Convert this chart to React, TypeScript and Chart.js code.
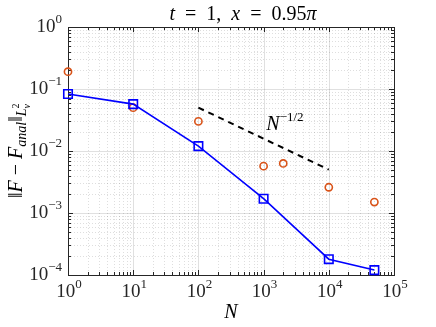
import React, { useEffect, useRef } from "react";
import { Chart, registerables } from "chart.js";

Chart.register(...registerables);

// Blue series (squares, solid line)
const N_BLUE = [1, 10, 100, 1000, 10000, 50000];
const ERR_BLUE = [0.083, 0.057, 0.012, 0.0017, 0.00018, 0.00012];

// Orange series (circles, markers only)
const N_ORANGE = [1, 10, 100, 1000, 2000, 10000, 50000];
const ERR_ORANGE = [0.19, 0.05, 0.03, 0.0057, 0.0063, 0.0026, 0.0015];

// Reference slope N^{-1/2}
const N_REF = [100, 10000];
const ERR_REF = [0.05, 0.005];

const X_DECADES = [0, 1, 2, 3, 4, 5];
const Y_DECADES = [-4, -3, -2, -1, 0];
const SLOPE_LABEL_AT = [1100, 0.022];

const SERIF = "'Liberation Serif', 'DejaVu Serif', serif";

type Piece = { t: string; it?: boolean; s?: number; dy?: number; adv?: boolean };

function font(p: Piece, base: number) {
  return `${p.it ? "italic " : ""}${p.s ?? base}px ${SERIF}`;
}

function richWidth(ctx: CanvasRenderingContext2D, pieces: Piece[], base: number) {
  let w = 0;
  for (const p of pieces) {
    ctx.font = font(p, base);
    if (p.adv !== false) w += ctx.measureText(p.t).width;
  }
  return w;
}

function drawRich(
  ctx: CanvasRenderingContext2D,
  pieces: Piece[],
  x: number,
  y: number,
  align: "left" | "center" | "right",
  base: number
) {
  const w = richWidth(ctx, pieces, base);
  let cx = align === "left" ? x : align === "center" ? x - w / 2 : x - w;
  ctx.textAlign = "left";
  ctx.textBaseline = "alphabetic";
  for (const p of pieces) {
    ctx.font = font(p, base);
    ctx.fillText(p.t, cx, y + (p.dy ?? 0));
    if (p.adv !== false) cx += ctx.measureText(p.t).width;
  }
}

function expLabel(e: number): Piece[] {
  return [{ t: "10" }, { t: e < 0 ? "\u2212" + String(-e) : String(e), s: 13, dy: -9 }];
}

const framePlugin = {
  id: "matlabFrame",
  beforeDatasetsDraw(chart: any) {
    const { ctx, chartArea: a, scales } = chart;
    const x = scales.x;
    const y = scales.y;
    ctx.save();
    ctx.lineWidth = 1;
    // minor grid
    ctx.strokeStyle = "rgba(0,0,0,0.13)";
    ctx.setLineDash([1, 2]);
    ctx.beginPath();
    for (const k of X_DECADES.slice(0, -1)) {
      for (let m = 2; m <= 9; m++) {
        const px = Math.round(x.getPixelForValue(m * Math.pow(10, k))) + 0.5;
        ctx.moveTo(px, a.top);
        ctx.lineTo(px, a.bottom);
      }
    }
    for (const k of Y_DECADES.slice(0, -1)) {
      for (let m = 2; m <= 9; m++) {
        const py = Math.round(y.getPixelForValue(m * Math.pow(10, k))) + 0.5;
        ctx.moveTo(a.left, py);
        ctx.lineTo(a.right, py);
      }
    }
    ctx.stroke();
    // major grid
    ctx.setLineDash([]);
    ctx.strokeStyle = "rgba(0,0,0,0.12)";
    ctx.beginPath();
    for (const k of X_DECADES) {
      const px = Math.round(x.getPixelForValue(Math.pow(10, k))) + 0.5;
      ctx.moveTo(px, a.top);
      ctx.lineTo(px, a.bottom);
    }
    for (const k of Y_DECADES) {
      const py = Math.round(y.getPixelForValue(Math.pow(10, k))) + 0.5;
      ctx.moveTo(a.left, py);
      ctx.lineTo(a.right, py);
    }
    ctx.stroke();
    // ticks (inward, all sides)
    ctx.strokeStyle = "#262626";
    ctx.beginPath();
    for (const k of X_DECADES) {
      for (let m = 1; m <= 9; m++) {
        const v = m * Math.pow(10, k);
        if (v > x.max) break;
        const len = m === 1 ? 5 : 3;
        const px = Math.round(x.getPixelForValue(v)) + 0.5;
        ctx.moveTo(px, a.bottom);
        ctx.lineTo(px, a.bottom - len);
        ctx.moveTo(px, a.top);
        ctx.lineTo(px, a.top + len);
      }
    }
    for (const k of Y_DECADES) {
      for (let m = 1; m <= 9; m++) {
        const v = m * Math.pow(10, k);
        if (v > y.max) break;
        const len = m === 1 ? 5 : 3;
        const py = Math.round(y.getPixelForValue(v)) + 0.5;
        ctx.moveTo(a.left, py);
        ctx.lineTo(a.left + len, py);
        ctx.moveTo(a.right, py);
        ctx.lineTo(a.right - len, py);
      }
    }
    ctx.stroke();
    // box
    ctx.strokeStyle = "#262626";
    ctx.strokeRect(Math.round(a.left) + 0.5, Math.round(a.top) + 0.5, Math.round(a.right - a.left), Math.round(a.bottom - a.top));
    ctx.restore();
  },
  afterDraw(chart: any) {
    const { ctx, chartArea: a, scales } = chart;
    const x = scales.x;
    const y = scales.y;
    ctx.save();
    ctx.fillStyle = "#262626";
    // tick labels
    for (const k of X_DECADES) {
      const px = x.getPixelForValue(Math.pow(10, k));
      drawRich(ctx, expLabel(k), px + 1, a.bottom + 22, "center", 19);
    }
    for (const k of Y_DECADES) {
      const py = y.getPixelForValue(Math.pow(10, k));
      drawRich(ctx, expLabel(k), a.left - 6, py + 5, "right", 19);
    }
    ctx.fillStyle = "#000";
    // title
    drawRich(
      ctx,
      [
        { t: "t", it: true },
        { t: "\u2002=\u2002" },
        { t: "1,\u2002" },
        { t: "x", it: true },
        { t: "\u2002=\u2002" },
        { t: "0.95" },
        { t: "\u03c0", it: true },
      ],
      (a.left + a.right) / 2 + 12,
      20,
      "center",
      20
    );
    // x label
    drawRich(ctx, [{ t: "N", it: true }], (a.left + a.right) / 2, 318, "center", 20);
    // y label
    ctx.save();
    ctx.translate(22, (a.top + a.bottom) / 2);
    ctx.rotate(-Math.PI / 2);
    drawRich(
      ctx,
      [
        { t: "\u2016" },
        { t: "F", it: true },
        { t: " \u2212 " },
        { t: "F", it: true },
        { t: "anal", it: true, s: 14, dy: 4 },
        { t: "\u2016" },
        { t: "L", it: true, s: 14, dy: 4 },
        { t: "2", s: 10, dy: -3, adv: false },
        { t: "v", it: true, s: 10, dy: 8 },
      ],
      0,
      0,
      "center",
      20
    );
    ctx.restore();
    // slope label
    const lx = x.getPixelForValue(SLOPE_LABEL_AT[0]);
    const ly = y.getPixelForValue(SLOPE_LABEL_AT[1]);
    drawRich(ctx, [{ t: "N", it: true }, { t: "\u22121/2", s: 13, dy: -9 }], lx, ly, "left", 20);
    ctx.restore();
  },
};

export default function App() {
  const ref = useRef<HTMLCanvasElement | null>(null);
  useEffect(() => {
    if (!ref.current) return;
    const chart = new Chart(ref.current, {
      type: "scatter",
      data: {
        datasets: [
          {
            data: N_BLUE.map((n, i) => ({ x: n, y: ERR_BLUE[i] })),
            showLine: true,
            borderColor: "#0000ff",
            backgroundColor: "rgba(0,0,0,0)",
            borderWidth: 1.6,
            pointStyle: "rect",
            pointRadius: 6,
            pointBorderWidth: 1.6,
            pointBorderColor: "#0000ff",
            pointBackgroundColor: "rgba(0,0,0,0)",
            clip: false,
          } as any,
          {
            data: N_ORANGE.map((n, i) => ({ x: n, y: ERR_ORANGE[i] })),
            showLine: false,
            borderColor: "#D95319",
            backgroundColor: "rgba(0,0,0,0)",
            pointStyle: "circle",
            pointRadius: 3.6,
            pointBorderWidth: 1.6,
            pointBorderColor: "#D95319",
            pointBackgroundColor: "rgba(0,0,0,0)",
            clip: false,
          } as any,
          {
            data: N_REF.map((n, i) => ({ x: n, y: ERR_REF[i] })),
            showLine: true,
            borderColor: "#000",
            borderWidth: 2,
            borderDash: [6, 5],
            pointRadius: 0,
            clip: false,
          } as any,
        ],
      },
      options: {
        animation: false,
        responsive: true,
        maintainAspectRatio: false,
        layout: { padding: { top: 27, right: 42, left: 0, bottom: 0 } },
        plugins: { legend: { display: false }, tooltip: { enabled: false }, title: { display: false } },
        scales: {
          x: {
            type: "logarithmic",
            min: 1,
            max: 100000,
            ticks: { display: false },
            grid: { display: false },
            border: { display: false },
            afterFit: (s: any) => {
              s.height = 52;
            },
          },
          y: {
            type: "logarithmic",
            min: 0.0001,
            max: 1,
            ticks: { display: false },
            grid: { display: false },
            border: { display: false },
            afterFit: (s: any) => {
              s.width = 68;
            },
          },
        },
      } as any,
      plugins: [framePlugin],
    });
    return () => chart.destroy();
  }, []);
  return (
    <div style={{ position: "fixed", left: 0, top: 0, width: 436, height: 327, background: "#fff" }}>
      <canvas ref={ref} />
    </div>
  );
}
